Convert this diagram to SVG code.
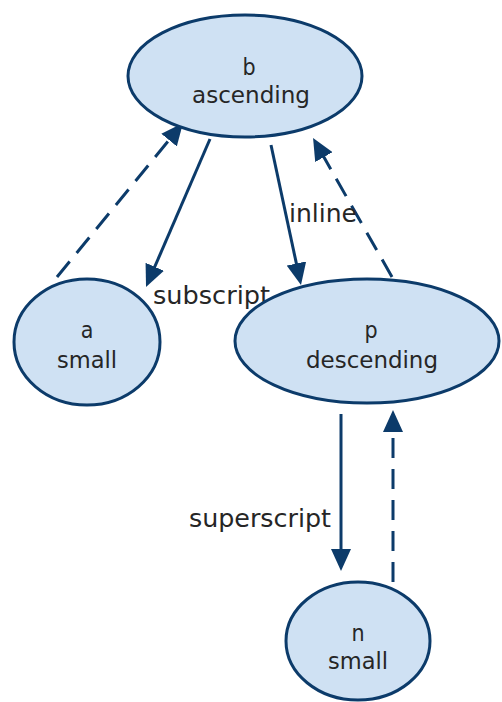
<svg xmlns="http://www.w3.org/2000/svg" width="502" height="702" viewBox="0 0 502 702">
  <style>
    .node ellipse { fill: #cfe1f3; stroke: #0c3b6a; stroke-width: 3; }
    .node text { font-family: "DejaVu Sans Condensed", "DejaVu Sans", "Liberation Sans", sans-serif; font-size: 23px; fill: #262626; text-anchor: middle; }
    .edge { stroke: #0c3b6a; stroke-width: 3; fill: none; marker-end: url(#arrow); }
    .dashed { stroke-dasharray: 20 11; }
    .label { font-family: "DejaVu Sans Condensed", "DejaVu Sans", "Liberation Sans", sans-serif; font-size: 24px; fill: #262626; }
  </style>
  <defs>
    <marker id="arrow" markerUnits="userSpaceOnUse" markerWidth="22" markerHeight="20" refX="13" refY="10" orient="auto">
      <path d="M0,0 L22,10 L0,20 z" fill="#0c3b6a"/>
    </marker>
  </defs>
  <rect width="502" height="702" fill="#ffffff"/>

  <g id="connectors">
    <line class="edge" x1="210" y1="139" x2="149.6" y2="278.7"/>
    <line class="edge dashed" x1="57" y1="277" x2="177.3" y2="130"/>
    <line class="edge" x1="271" y1="145" x2="299.1" y2="276.2"/>
    <line class="edge dashed" x1="392" y1="277" x2="317.5" y2="145.8"/>
    <line class="edge" x1="341" y1="414" x2="341" y2="562"/>
    <line class="edge dashed" x1="393" y1="582" x2="393" y2="419"/>
    <text class="label" x="153" y="304" textLength="117" lengthAdjust="spacingAndGlyphs">subscript</text>
    <text class="label" x="289" y="222" textLength="68" lengthAdjust="spacingAndGlyphs">inline</text>
    <text class="label" x="189" y="527" textLength="142" lengthAdjust="spacingAndGlyphs">superscript</text>
  </g>

  <g id="node-b" class="node">
    <ellipse cx="245" cy="76" rx="117" ry="61"/>
    <text x="249" y="75">b</text>
    <text x="251" y="103" textLength="118" lengthAdjust="spacingAndGlyphs">ascending</text>
  </g>
  <g id="node-a" class="node">
    <ellipse cx="87" cy="342" rx="73" ry="63"/>
    <text x="87" y="338">a</text>
    <text x="87" y="368" textLength="60" lengthAdjust="spacingAndGlyphs">small</text>
  </g>
  <g id="node-p" class="node">
    <ellipse cx="367" cy="341" rx="132" ry="62"/>
    <text x="371" y="338">p</text>
    <text x="372" y="368" textLength="132" lengthAdjust="spacingAndGlyphs">descending</text>
  </g>
  <g id="node-n" class="node">
    <ellipse cx="358" cy="641" rx="72" ry="59"/>
    <text x="358" y="641">n</text>
    <text x="358" y="669" textLength="60" lengthAdjust="spacingAndGlyphs">small</text>
  </g>
</svg>
